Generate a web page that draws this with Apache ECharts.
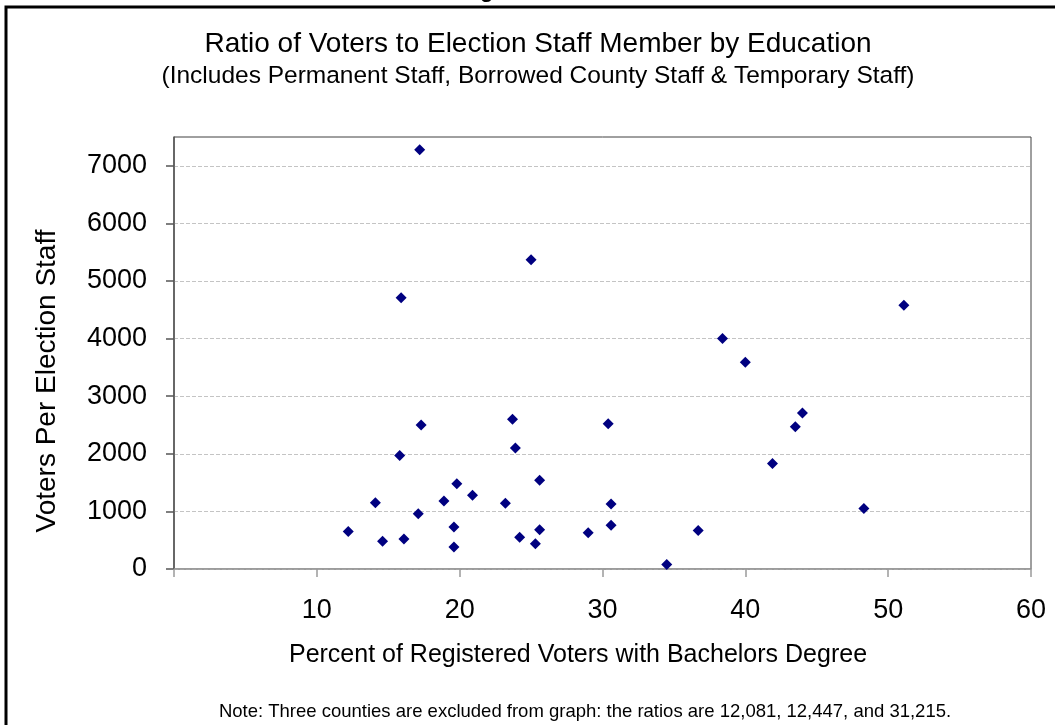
<!DOCTYPE html>
<html>
<head>
<meta charset="utf-8">
<script src="https://cdn.jsdelivr.net/npm/echarts@6/dist/echarts.min.js"></script>
<style>
  html, body { margin: 0; padding: 0; background: #fff; }
  #chart { width: 1055px; height: 725px; }
</style>
</head>
<body>
<div id="chart"></div>
<script>
// Percent of registered voters holding a bachelor's degree, per county
const pctBachelors = [
  12.2, 14.1, 14.6, 15.8, 15.9, 16.1, 17.1, 17.2, 17.3, 18.9,
  19.6, 19.6, 19.8, 20.9, 23.2, 23.7, 23.9, 24.2, 25.0, 25.3,
  25.6, 25.6, 29.0, 30.4, 30.6, 30.6, 34.5, 36.7, 38.4, 40.0,
  41.9, 43.5, 44.0, 48.3, 51.1
];
// Registered voters per election staff member, same county order
const votersPerStaff = [
  650, 1150, 480, 1970, 4710, 520, 960, 7280, 2500, 1180,
  730, 380, 1480, 1280, 1140, 2600, 2100, 550, 5370, 440,
  1540, 680, 630, 2520, 1130, 760, 80, 670, 4000, 3590,
  1830, 2470, 2710, 1050, 4580
];
const yTickValues = [0, 1000, 2000, 3000, 4000, 5000, 6000, 7000];
const xTickValues = [0, 10, 20, 30, 40, 50, 60];

const titleText = 'Ratio of Voters to Election Staff Member by Education';
const subtitleText = '(Includes Permanent Staff, Borrowed County Staff & Temporary Staff)';
const xName = 'Percent of Registered Voters with Bachelors Degree';
const yName = 'Voters Per Election Staff';
const noteText = 'Note: Three counties are excluded from graph: the ratios are 12,081, 12,447, and 31,215.';

const FONT = '"Liberation Sans", Arial, sans-serif';
const points = pctBachelors.map((x, i) => [x, votersPerStaff[i]]);

const chart = echarts.init(document.getElementById('chart'), null, { renderer: 'canvas' });
chart.setOption({
  backgroundColor: '#ffffff',
  animation: false,
  grid: {
    left: 174, right: 24, top: 137, bottom: 156,
    show: true, borderColor: '#404040', borderWidth: 1, backgroundColor: '#ffffff'
  },
  xAxis: {
    type: 'value', min: 0, max: 60, interval: 10,
    axisLine: { show: true, onZero: false, lineStyle: { color: '#9a9a9a', width: 1.5 } },
    axisTick: { show: true, length: 8, lineStyle: { color: '#9a9a9a', width: 1.5 } },
    splitLine: { show: false },
    axisLabel: {
      margin: 28, color: '#000', fontFamily: FONT, fontSize: 27,
      customValues: xTickValues.slice(1),
      formatter: v => String(v)
    }
  },
  yAxis: {
    type: 'value', min: 0, max: 7500, interval: 1000,
    axisLine: { show: true, lineStyle: { color: '#555', width: 1.5 } },
    axisTick: { show: true, length: 8, lineStyle: { color: '#555', width: 1.5 }, customValues: yTickValues },
    splitLine: { show: true, lineStyle: { color: '#c4c4c4', type: [4, 2], width: 1 } },
    axisLabel: {
      margin: 27, color: '#000', fontFamily: FONT, fontSize: 27,
      customValues: yTickValues,
      formatter: v => String(v)
    }
  },
  series: [{
    type: 'scatter',
    data: points,
    symbol: 'diamond',
    symbolSize: 11,
    itemStyle: { color: '#000080', opacity: 1 }
  }],
  graphic: [
    // outer frame
    { type: 'polyline', z: 10, shape: { points: [[6, 730], [6, 7], [1060, 7]] },
      style: { stroke: '#000', lineWidth: 3, fill: null } },
    // descender of a heading above the frame
    { type: 'text', z: 10, left: 480, top: -20,
      style: { text: 'g', font: 'bold 22px ' + FONT, fill: '#000' } },
    { type: 'text', z: 10, x: 538, y: 44,
      style: { text: titleText, font: '28px ' + FONT, fill: '#000', align: 'center', verticalAlign: 'middle' } },
    { type: 'text', z: 10, x: 538, y: 76,
      style: { text: subtitleText, font: '24.5px ' + FONT, fill: '#000', align: 'center', verticalAlign: 'middle' } },
    { type: 'text', z: 10, x: 47, y: 381, rotation: Math.PI / 2,
      style: { text: yName, font: '28px ' + FONT, fill: '#000', align: 'center', verticalAlign: 'middle' } },
    { type: 'text', z: 10, x: 578, y: 655,
      style: { text: xName, font: '25px ' + FONT, fill: '#000', align: 'center', verticalAlign: 'middle' } },
    { type: 'text', z: 10, x: 585, y: 712,
      style: { text: noteText, font: '18.5px ' + FONT, fill: '#000', align: 'center', verticalAlign: 'middle' } }
  ]
});
</script>
</body>
</html>
